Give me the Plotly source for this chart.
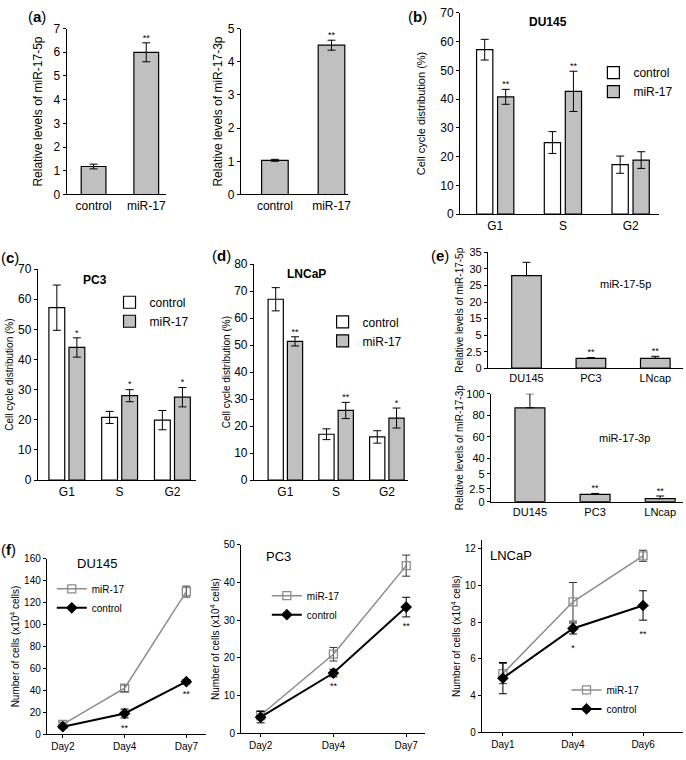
import numpy as np
import plotly.graph_objects as go

W, H = 686, 760
FONT = "Liberation Sans, Arial, sans-serif"
GRAY = "#c0c0c0"
LGRAY = "#8c8c8c"

# ---- data ----
# (a) relative miR levels after transfection
a_cats = ["control", "miR-17"]
a5p_vals = [1.18, 6.0]
a5p_err = [0.1, 0.4]
a5p_sig = ["", "**"]
a3p_vals = [1.03, 4.5]
a3p_err = [0.03, 0.15]
a3p_sig = ["", "**"]

# (b)-(d) cell cycle distribution
phases = ["G1", "S", "G2"]
du_ctrl = [57.2, 24.9, 17.2]
du_ctrl_err = [3.6, 3.8, 3.0]
du_mir = [40.8, 42.7, 18.8]
du_mir_err = [2.6, 7.0, 2.9]
du_sig = ["**", "**", ""]

pc_ctrl = [57.2, 20.8, 19.9]
pc_ctrl_err = [7.5, 2.0, 3.2]
pc_mir = [44.0, 28.0, 27.5]
pc_mir_err = [3.2, 2.0, 3.2]
pc_sig = ["*", "*", "*"]

ln_ctrl = [67.0, 17.0, 16.0]
ln_ctrl_err = [4.3, 2.0, 2.3]
ln_mir = [51.4, 25.8, 23.0]
ln_mir_err = [1.7, 3.0, 3.7]
ln_sig = ["**", "**", "*"]

# (e) endogenous levels in cell lines
cell_lines = ["DU145", "PC3", "LNcap"]
e5p_vals = [28.0, 1.5, 1.5]
e5p_err = [4.0, 0.1, 0.3]
e5p_sig = ["", "**", "**"]
e5p_ticks = [0, 2.5, 5, 15, 20, 25, 30, 35]
e3p_vals = [87.0, 1.4, 0.6]
e3p_err = [13.0, 0.2, 0.5]
e3p_sig = ["", "**", "**"]
e3p_ticks = [0, 2.5, 5, 40, 60, 80, 100]

# (f) growth curves
du_days = ["Day2", "Day4", "Day7"]
fdu_mir = [9, 42, 130]
fdu_mir_err = [2, 3, 5]
fdu_ctrl = [7, 19, 48]
fdu_ctrl_err = [1, 4, 2]
fdu_sig = ["", "**", "**"]

pc_days = ["Day2", "Day4", "Day7"]
fpc_mir = [4.8, 21, 44.5]
fpc_mir_err = [1.2, 1.8, 2.8]
fpc_ctrl = [4.3, 16, 33.5]
fpc_ctrl_err = [1.5, 1.0, 2.6]
fpc_sig = ["", "**", "**"]

ln_days = ["Day1", "Day4", "Day6"]
fln_mir = [5.2, 9.1, 11.6]
fln_mir_err = [0.55, 1.05, 0.3]
fln_ctrl = [4.95, 7.65, 8.9]
fln_ctrl_err = [0.85, 0.3, 0.8]
fln_sig = ["", "*", "**"]
fln_ticks = [0, 4, 6, 8, 10, 12]

fig = go.Figure()
n_ax = 0


def brk(v, stops, pos=None):
    # broken-axis scale: map values onto evenly spaced tick slots
    if pos is None:
        pos = list(range(len(stops)))
    return np.interp(np.asarray(v, float), stops, pos)


def add_panel(left, right, top, bottom, xr, yr, xlabels, ytitle, tickfont=12,
              titlefont=12, standoff=8, xticks_on=False, **yextra):
    global n_ax
    n_ax += 1
    s = "" if n_ax == 1 else str(n_ax)
    xa = dict(domain=[left / W, right / W], range=xr, anchor="y" + s,
              showline=True, linecolor="black", linewidth=1, showgrid=False,
              zeroline=False, tickvals=list(range(len(xlabels))), ticktext=xlabels,
              ticks="outside" if xticks_on else "", ticklen=3, tickcolor="black",
              tickfont=dict(size=tickfont, color="black"))
    ya = dict(domain=[1 - bottom / H, 1 - top / H], range=yr, anchor="x" + s,
              showline=True, linecolor="black", linewidth=1, showgrid=False,
              zeroline=False, ticks="outside", ticklen=3, tickcolor="black",
              tickfont=dict(size=tickfont, color="black"),
              title=dict(text=ytitle, font=dict(size=titlefont, color="black"),
                         standoff=standoff))
    ya.update(yextra)
    fig.update_layout(**{"xaxis" + s: xa, "yaxis" + s: ya})
    return "x" + s, "y" + s


def err(arr, arrm=None, color="black"):
    d = dict(type="data", array=arr, color=color, thickness=1, width=4, visible=True)
    if arrm is not None:
        d.update(symmetric=False, arrayminus=arrm)
    return d


def stars(x, y, txt, xa, ya, pos="top center", size=9):
    fig.add_trace(go.Scatter(x=x, y=y, text=txt, mode="text", textposition=pos,
                             textfont=dict(size=size, color="black"),
                             xaxis=xa, yaxis=ya, showlegend=False, hoverinfo="skip"))


def single_bars(xa, ya, vals, e, sig, bw):
    x = list(range(len(vals)))
    fig.add_trace(go.Bar(x=x, y=vals, width=bw, marker=dict(color=GRAY, line=dict(color="black", width=1.2)),
                         error_y=err(e), xaxis=xa, yaxis=ya, showlegend=False))
    stars(x, np.add(vals, e), sig, xa, ya)


def grouped_bars(xa, ya, ctrl, ctrl_e, mir, mir_e, sig, legend, bw=0.3, sh=0.19):
    x = np.arange(len(ctrl))
    fig.add_trace(go.Bar(x=x - sh, y=ctrl, width=bw, name="control", legend=legend,
                         marker=dict(color="white", line=dict(color="black", width=1.2)),
                         error_y=err(ctrl_e), xaxis=xa, yaxis=ya))
    fig.add_trace(go.Bar(x=x + sh, y=mir, width=bw, name="miR-17", legend=legend,
                         marker=dict(color=GRAY, line=dict(color="black", width=1.2)),
                         error_y=err(mir_e), xaxis=xa, yaxis=ya))
    stars(x + sh, np.add(mir, mir_e), sig, xa, ya)


# (a)
xa, ya = add_panel(67, 167, 22, 191, [-0.51, 1.38], [0, 7], a_cats,
                   "Relative levels of miR-17-5p", standoff=8, dtick=1)
single_bars(xa, ya, a5p_vals, a5p_err, a5p_sig, 0.47)
xa, ya = add_panel(242, 350, 22, 191, [-0.6, 1.3], [0, 5], a_cats,
                   "Relative levels of miR-17-3p", standoff=2, dtick=1)
single_bars(xa, ya, a3p_vals, a3p_err, a3p_sig, 0.47)

# (b)
xa, ya = add_panel(462, 662, 6, 211, [-0.52, 2.42], [0, 70], phases,
                   "Cell cycle distribution (%)", titlefont=11, standoff=12, dtick=10)
grouped_bars(xa, ya, du_ctrl, du_ctrl_err, du_mir, du_mir_err, du_sig, "legend", bw=0.24, sh=0.155)

# (c)
xa, ya = add_panel(38, 197, 267, 482, [-0.55, 2.45], [0, 70], phases,
                   "Cell cycle distribution (%)", titlefont=10, standoff=2, dtick=10)
grouped_bars(xa, ya, pc_ctrl, pc_ctrl_err, pc_mir, pc_mir_err, pc_sig, "legend2")

# (d)
xa, ya = add_panel(255, 410, 262, 482, [-0.62, 2.42], [0, 80], phases,
                   "Cell cycle distribution (%)", titlefont=10, standoff=1, dtick=10)
grouped_bars(xa, ya, ln_ctrl, ln_ctrl_err, ln_mir, ln_mir_err, ln_sig, "legend3")

# (e) broken axes
e_top_pos = list(range(len(e5p_ticks)))
xa, ya = add_panel(490, 686, 250, 368, [-0.6, 2.43], [0, 7], cell_lines,
                   "Relative levels of miR-17-5p", tickfont=11, titlefont=10, standoff=0,
                   tickvals=e_top_pos, ticktext=[str(t) for t in e5p_ticks])
v = brk(e5p_vals, e5p_ticks)
up = brk(np.add(e5p_vals, e5p_err), e5p_ticks) - v
fig.add_trace(go.Bar(x=[0, 1, 2], y=v, width=0.46, marker=dict(color=GRAY, line=dict(color="black", width=1.2)),
                     error_y=err(up, np.zeros(3)), xaxis=xa, yaxis=ya, showlegend=False))
stars([0, 1, 2], v + up, e5p_sig, xa, ya)

e_bot_pos = [0, 0.6, 1.3, 2, 3, 4, 5]
xa, ya = add_panel(493, 686, 394, 504, [-0.6, 2.35], [0, 5], cell_lines,
                   "Relative levels of miR-17-3p", tickfont=11, titlefont=10, standoff=0,
                   tickvals=e_bot_pos, ticktext=[str(t) for t in e3p_ticks])
v = brk(e3p_vals, e3p_ticks, e_bot_pos)
up = brk(np.add(e3p_vals, e3p_err), e3p_ticks, e_bot_pos) - v
fig.add_trace(go.Bar(x=[0, 1, 2], y=v, width=0.46, marker=dict(color=GRAY, line=dict(color="black", width=1.2)),
                     error_y=err(up, np.zeros(3)), xaxis=xa, yaxis=ya, showlegend=False))
stars([0, 1, 2], v + up, e3p_sig, xa, ya)


# (f) growth curves
def growth(xa, ya, mir, mir_e, ctrl, ctrl_e, sig, legend, scale=None, star_pad=0.0):
    f = (lambda a: np.asarray(a, float)) if scale is None else scale
    x = [0, 1, 2]
    vm, vc = f(mir), f(ctrl)
    fig.add_trace(go.Scatter(x=x, y=vm, name="miR-17", legend=legend, mode="lines+markers",
                             line=dict(color=LGRAY, width=1.5),
                             marker=dict(symbol="square-open", size=8, color=LGRAY, line=dict(width=1.3)),
                             error_y=err(f(np.add(mir, mir_e)) - vm, vm - f(np.subtract(mir, mir_e)), "#333"),
                             xaxis=xa, yaxis=ya))
    fig.add_trace(go.Scatter(x=x, y=vc, name="control", legend=legend, mode="lines+markers",
                             line=dict(color="black", width=2),
                             marker=dict(symbol="diamond", size=9, color="black"),
                             error_y=err(f(np.add(ctrl, ctrl_e)) - vc, vc - f(np.subtract(ctrl, ctrl_e))),
                             xaxis=xa, yaxis=ya))
    stars(x, f(np.subtract(ctrl, ctrl_e)) - star_pad, sig, xa, ya, pos="bottom center")


NC = "Number of cells (x10<sup>4</sup> cells)"
xa, ya = add_panel(47, 207, 562, 741, [-0.26, 2.32], [0, 160], du_days, NC,
                   tickfont=10, titlefont=10, standoff=2, xticks_on=True, dtick=20)
growth(xa, ya, fdu_mir, fdu_mir_err, fdu_ctrl, fdu_ctrl_err, fdu_sig, "legend4", star_pad=6)
xa, ya = add_panel(242, 427, 548, 740, [-0.27, 2.26], [0, 50], pc_days, NC,
                   tickfont=10, titlefont=10, standoff=2, xticks_on=True, dtick=10)
growth(xa, ya, fpc_mir, fpc_mir_err, fpc_ctrl, fpc_ctrl_err, fpc_sig, "legend5", star_pad=1.5)
ln_pos = list(range(len(fln_ticks)))
xa, ya = add_panel(484, 686, 543, 739, [-0.3, 2.57], [0, 5.23], ln_days, NC,
                   tickfont=10, titlefont=10, standoff=2, xticks_on=True,
                   tickvals=ln_pos, ticktext=[str(t) for t in fln_ticks])
growth(xa, ya, fln_mir, fln_mir_err, fln_ctrl, fln_ctrl_err, fln_sig, "legend6",
       scale=lambda a: brk(a, fln_ticks), star_pad=0.27)


def leg(px, py, size):
    return dict(x=px / W, y=1 - py / H, xanchor="left", yanchor="top", bgcolor="rgba(0,0,0,0)",
                font=dict(size=size, color="black"), itemwidth=30, tracegroupgap=0)


def note(px, py, text, size=12, bold=False):
    fig.add_annotation(x=px / W, y=1 - py / H, xref="paper", yref="paper", showarrow=False,
                       xanchor="center", yanchor="middle",
                       text=f"<b>{text}</b>" if bold else text, font=dict(size=size, color="black"))


for px, py, lab in [(37, 10, "a"), (419, 10, "b"), (10, 255, "c"), (222, 253, "d"),
                    (442, 253, "e"), (9, 553, "f")]:
    note(px, py, f"(<b>{lab}</b>)", size=15)

note(550, 15, "DU145", 12, True)
note(95, 278, "PC3", 12, True)
note(308, 272, "LNCaP", 12, True)
note(628, 282, "miR-17-5p", 11)
note(627, 439, "miR-17-3p", 11)
note(97, 567, "DU145", 13)
note(280, 560, "PC3", 13)
note(513, 559, "LNCaP", 13)

fig.update_layout(
    width=W, height=H, margin=dict(l=0, r=0, t=0, b=0),
    paper_bgcolor="white", plot_bgcolor="white",
    font=dict(family=FONT, color="black"),
    barmode="overlay",
    legend=leg(596, 52, 12), legend2=leg(110, 286, 12), legend3=leg(324, 306, 12),
    legend4=leg(52, 578, 10), legend5=leg(268, 585, 10), legend6=leg(569, 681, 10),
)

# page body has a default 8px margin; drop it so the figure sits at the page corner
fig.write_html("out.html", config={"displayModeBar": False},
               post_script="document.body.style.margin='0';")
